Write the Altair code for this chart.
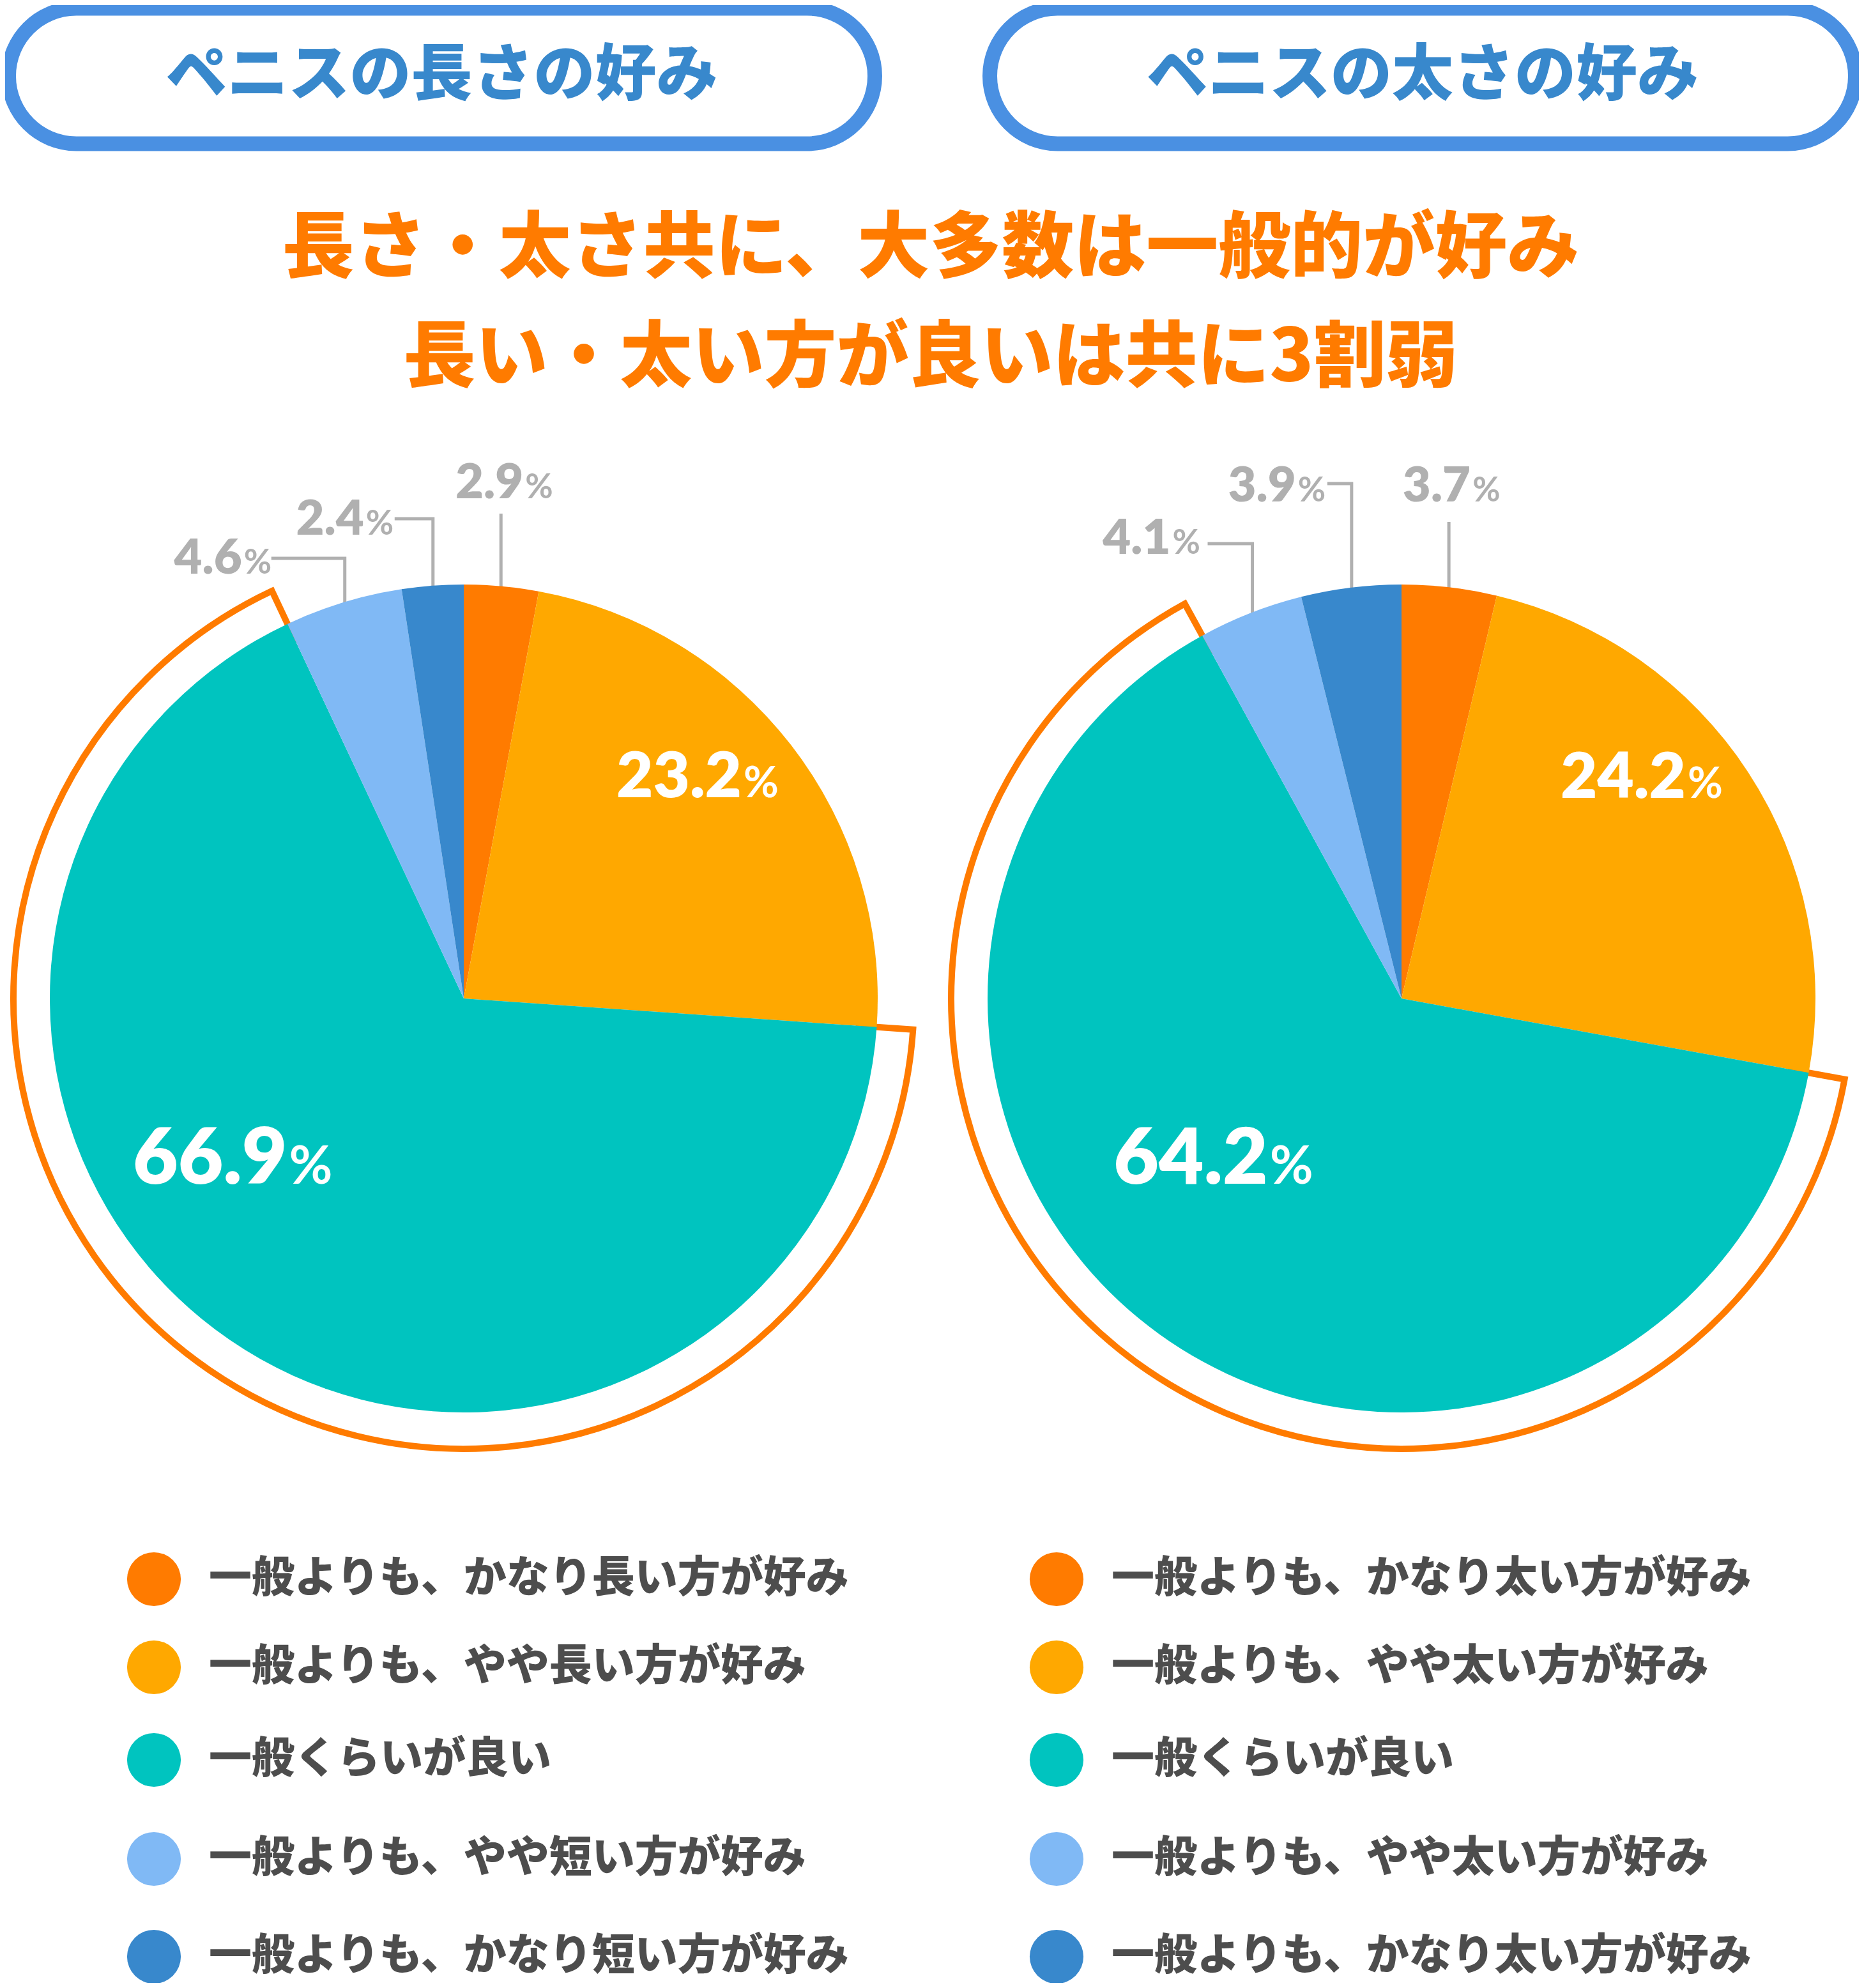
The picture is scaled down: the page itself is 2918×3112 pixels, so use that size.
import math
import altair as alt
import pandas as pd

# ---------------- data ----------------
panel_titles = ["ペニスの長さの好み", "ペニスの太さの好み"]
headline = ["長さ・太さ共に、大多数は一般的が好み", "長い・太い方が良いは共に3割弱"]
legend_length = ["一般よりも、かなり長い方が好み", "一般よりも、やや長い方が好み", "一般くらいが良い",
                 "一般よりも、やや短い方が好み", "一般よりも、かなり短い方が好み"]
legend_thick = ["一般よりも、かなり太い方が好み", "一般よりも、やや太い方が好み", "一般くらいが良い",
                "一般よりも、やや太い方が好み", "一般よりも、かなり太い方が好み"]
values_length = [2.9, 23.2, 66.9, 4.6, 2.4]
values_thick = [3.7, 24.2, 64.2, 4.1, 3.9]
kinds = ["k1", "k2", "k3", "k4", "k5"]

# ---------------- style / layout ----------------
W, H, OFF = 2902, 3096, 8
slice_colors = ["#ff7b00", "#ffa800", "#00c4bf", "#80b9f5", "#3888cc"]
ORANGE = "#ff7b00"
BOX_BLUE = "#4a90e2"
TITLE_BLUE = "#3888cc"
GRAY = "#b0b0b0"
TEXT_DARK = "#4d4d4d"
JP_FONT = "Noto Sans CJK JP"
NUM_FONT = "Lato"

centers = [(726, 1563), (2194, 1563)]
R_PIE = 648
R_OUTLINE = 705
boxes = [(13.5, 1369.5), (1549.5, 2904.5)]
box_y = (13, 225)
legend_x = [241, 1654]
legend_y = [2472, 2610, 2755, 2910, 3063]
headline_pos = [(1457, 391), (1457, 562)]
HEADLINE_SIZE = 113
LEGEND_SIZE = 67

# outside labels: slice -> (elbow_y, horizontal length, junction offset, baseline)
outside_layout = [
    {0: (804, 0, 35, 780), 4: (812, 60, -48, 837), 3: (874, 115, -46, 898)},
    {0: (817, 0, 34, 785), 4: (757, 38, -49, 785), 3: (851, 70, -58, 867)},
]
# inside labels: slice -> (angle adjust deg, radius, number size, percent size)
inside_layout = [
    {1: (-1.1, 559, 99, 67), 2: (14, 370, 122, 83)},
    {1: (-5, 566, 99, 67), 2: (4.6, 323, 122, 83)},
]
OUT_NUM, OUT_PCT = 76, 53

# ---------------- tables ----------------
series = [values_length, values_thick]
legends = [legend_length, legend_thick]

pie_rows, outline_rows, leader_rows, num_rows, pct_rows = [], [], [], [], []
for p, vals in enumerate(series):
    cx, cy = centers[p]
    total = sum(vals)
    cum = 0.0
    for i, v in enumerate(vals):
        t0 = cum / total
        t1 = (cum + v) / total
        cum += v
        pie_rows.append(dict(panel=p, kind=kinds[i], t0=t0, t1=t1, x=cx, y=cy))
        if i == 2:
            outline_rows.append(dict(panel=p, t0=t0, t1=t1, x=cx, y=cy))
        mid = (t0 + t1) / 2 * 2 * math.pi
        label = f"{v:.1f}"
        if i in outside_layout[p]:
            ey, hl, joff, base = outside_layout[p][i]
            ex = cx + (R_PIE - 8) * math.sin(mid)
            eyy = cy - (R_PIE - 8) * math.cos(mid)
            lid = f"{p}-{i}"
            leader_rows += [dict(lid=lid, o=0, x=ex, y=eyy), dict(lid=lid, o=1, x=ex, y=ey)]
            if hl > 0:
                leader_rows.append(dict(lid=lid, o=2, x=ex - hl, y=ey))
                jx = ex - hl + joff
            else:
                jx = ex + joff
            num_rows.append(dict(x=jx, y=base, text=label, fs=OUT_NUM, col=GRAY))
            pct_rows.append(dict(x=jx, y=base, text="%", fs=OUT_PCT, col=GRAY))
        if i in inside_layout[p]:
            adj, rr, fn, fp = inside_layout[p][i]
            a = mid + math.radians(adj)
            jx = cx + rr * math.sin(a)
            jy = cy - rr * math.cos(a) + 0.36 * fn
            num_rows.append(dict(x=jx, y=jy, text=label, fs=fn, col="#ffffff"))
            pct_rows.append(dict(x=jx, y=jy, text="%", fs=fp, col="#ffffff"))

box_df = pd.DataFrame([dict(x=b[0], x2=b[1], y=box_y[0], y2=box_y[1]) for b in boxes])
center_text = []
for p in range(2):
    center_text.append(dict(x=(boxes[p][0] + boxes[p][1]) / 2, y=119, text=panel_titles[p],
                            fs=96, col=TITLE_BLUE))
for k in range(2):
    center_text.append(dict(x=headline_pos[k][0], y=headline_pos[k][1], text=headline[k],
                            fs=HEADLINE_SIZE, col=ORANGE))
legend_rows = []
for p in range(2):
    for i in range(5):
        legend_rows.append(dict(x=legend_x[p], tx=legend_x[p] + 86, y=legend_y[i],
                                kind=kinds[i], text=legends[p][i]))

pie_df = pd.DataFrame(pie_rows)
outline_df = pd.DataFrame(outline_rows)
leader_df = pd.DataFrame(leader_rows)
num_df = pd.DataFrame(num_rows)
pct_df = pd.DataFrame(pct_rows)
ctext_df = pd.DataFrame(center_text)
legend_df = pd.DataFrame(legend_rows)

# ---------------- encodings ----------------
xs = alt.Scale(domain=[OFF, OFF + W], nice=False, zero=False)
ys = alt.Scale(domain=[OFF, OFF + H], nice=False, zero=False, reverse=True)
X = lambda f="x": alt.X(f"{f}:Q", scale=xs, axis=None)
Y = lambda f="y": alt.Y(f"{f}:Q", scale=ys, axis=None)
thscale = alt.Scale(domain=[0, 1], range=[0, 2 * math.pi])
color_enc = alt.Color("kind:N", scale=alt.Scale(domain=kinds, range=slice_colors), legend=None)

boxes_l = alt.Chart(box_df).mark_rect(
    cornerRadius=106, fill="white", stroke=BOX_BLUE, strokeWidth=23
).encode(x=X(), x2="x2:Q", y=Y(), y2="y2:Q")

ctext_l = alt.Chart(ctext_df).mark_text(
    font=JP_FONT, fontWeight=900, align="center", baseline="middle"
).encode(x=X(), y=Y(), text="text:N", size=alt.Size("fs:Q", scale=None),
         color=alt.Color("col:N", scale=None))

outline_l = alt.Chart(outline_df).mark_arc(
    innerRadius=620, outerRadius=R_OUTLINE, fill="white", fillOpacity=0,
    stroke=ORANGE, strokeWidth=10, strokeJoin="miter"
).encode(x=X(), y=Y(), theta=alt.Theta("t0:Q", scale=thscale, stack=None), theta2="t1:Q")

leader_l = alt.Chart(leader_df).mark_line(
    color=GRAY, strokeWidth=5, strokeJoin="miter", strokeCap="butt"
).encode(x=X(), y=Y(), detail="lid:N", order="o:Q")

pie_l = alt.Chart(pie_df).mark_arc(outerRadius=R_PIE).encode(
    x=X(), y=Y(), theta=alt.Theta("t0:Q", scale=thscale, stack=None), theta2="t1:Q",
    color=color_enc)

num_l = alt.Chart(num_df).mark_text(
    font=NUM_FONT, fontWeight=800, align="right", baseline="alphabetic"
).encode(x=X(), y=Y(), text="text:N", size=alt.Size("fs:Q", scale=None),
         color=alt.Color("col:N", scale=None))

pct_l = alt.Chart(pct_df).mark_text(
    font=NUM_FONT, fontWeight=700, align="left", baseline="alphabetic", dx=3
).encode(x=X(), y=Y(), text="text:N", size=alt.Size("fs:Q", scale=None),
         color=alt.Color("col:N", scale=None))

leg_dot = alt.Chart(legend_df).mark_circle(size=7088, opacity=1).encode(
    x=X(), y=Y(), color=color_enc)
leg_txt = alt.Chart(legend_df).mark_text(
    font=JP_FONT, fontWeight=900, align="left", baseline="middle", fontSize=LEGEND_SIZE,
    color=TEXT_DARK
).encode(x=X("tx"), y=Y(), text="text:N")

chart = alt.layer(
    boxes_l, ctext_l, outline_l, leader_l, pie_l, num_l, pct_l, leg_dot, leg_txt
).properties(
    width=W, height=H, padding=0, autosize=alt.AutoSizeParams(type="none"),
    background="white"
).configure_view(stroke=None)

chart.save("out.html", embed_options={"renderer": "svg", "actions": False})
